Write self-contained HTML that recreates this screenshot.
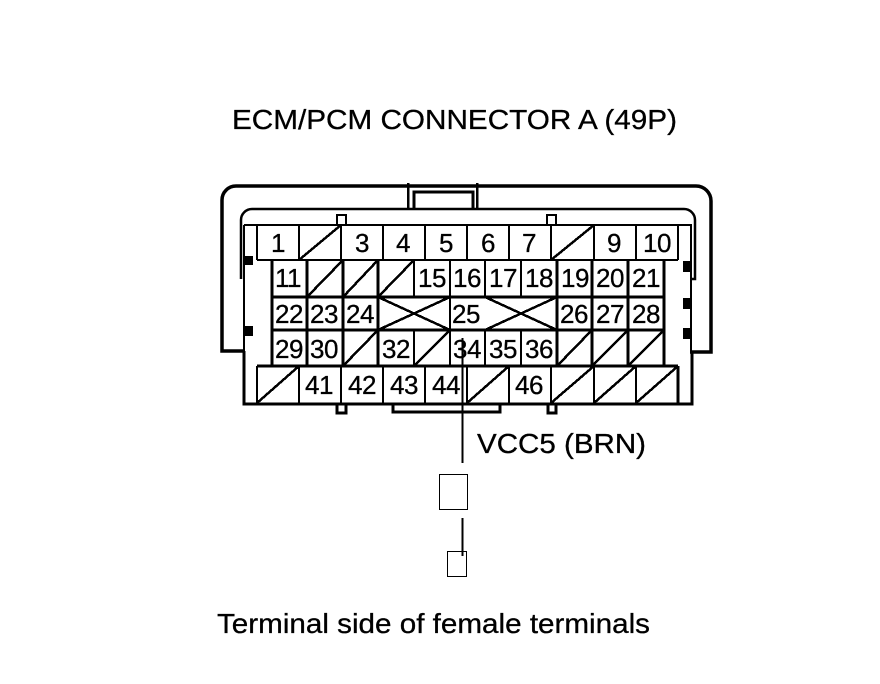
<!DOCTYPE html>
<html>
<head>
<meta charset="utf-8">
<style>
html,body{margin:0;padding:0;background:#fff}
svg{display:block}
text{font-family:"Liberation Sans",sans-serif;fill:#000;stroke:#000;stroke-width:.3px}
.n{font-size:26px;text-anchor:middle;letter-spacing:-.5px}
.t{font-size:28px}
.a{fill:none;stroke:#000;shape-rendering:auto}
.c{stroke:#000;fill:none;shape-rendering:crispEdges}
</style>
</head>
<body>
<svg width="880" height="684" viewBox="0 0 880 684" xmlns="http://www.w3.org/2000/svg">
<rect width="880" height="684" fill="#fff"/>

<text class="t" x="232" y="129" textLength="445" lengthAdjust="spacingAndGlyphs">ECM/PCM CONNECTOR A (49P)</text>
<text class="t" x="477" y="453" textLength="169" lengthAdjust="spacingAndGlyphs">VCC5 (BRN)</text>
<text class="t" x="217" y="633" textLength="433" lengthAdjust="spacingAndGlyphs">Terminal side of female terminals</text>

<!-- outer housing -->
<path class="a" stroke-width="3.500" d="M244 351H222V200A14 14 0 0 1 236 186H696A15 15 0 0 1 711 201V352H690"/>
<!-- inner housing -->
<path class="a" stroke-width="2.500" d="M241 279V220A11 11 0 0 1 252 209H684A11 11 0 0 1 695 220V279H691"/>
<!-- top tab -->
<path class="c" stroke-width="2.500" d="M408 183V209M477 183V209"/>
<path class="c" stroke-width="3" d="M414 209V192H473V209"/>
<!-- notches -->
<path class="c" stroke-width="2" d="M337 225V215H346V225M547 225V215H556V225"/>
<path class="c" stroke-width="3" d="M337 403V413H346V403M548 403V413H556V403"/>
<!-- bottom tab -->
<path class="c" stroke-width="3" d="M393 403V412H500V403"/>

<!-- body frame -->
<path class="c" stroke-width="2" d="M244 225V351M244 225H691V352"/>
<path class="c" stroke-width="3" d="M244 351V404H692V352"/>
<path class="c" stroke-width="3" d="M678 366V403"/>

<!-- black blocks -->
<rect x="245" y="256" width="8" height="9"/>
<rect x="245" y="326" width="8" height="10"/>
<rect x="683" y="261" width="8" height="11"/>
<rect x="683" y="298" width="8" height="11"/>
<rect x="683" y="328" width="8" height="11"/>

<!-- row 1 -->
<path class="c" stroke-width="2" d="M257 225V260M299 225V260M341 225V260M383 225V260M425 225V260M467 225V260M509 225V260M551 225V260M594 225V260M636 225V260M678 225V260M257 260H678"/>
<!-- row 2-4 verticals -->
<path class="c" stroke-width="3" d="M272 260V366M307 260V366M343 260V366M378 260V366M557 260V366M592 260V366M628 260V366M664 260V366"/>
<path class="c" stroke-width="2" d="M414 260V297M450 260V366M485 260V297M521 260V297M485 330V366M521 330V366M414 330V366"/>
<path class="c" stroke-width="3" d="M272 297H664M272 330H664M257 366H678"/>
<!-- row 5 verticals -->
<path class="c" stroke-width="2" d="M257 366V403M299 366V403M341 366V403M383 366V403M425 366V403M467 366V403M509 366V403M551 366V403M594 366V403M636 366V403"/>

<!-- diagonals -->
<g stroke="#000" stroke-width="2.500" shape-rendering="crispEdges">
<line x1="299" y1="260" x2="341" y2="225"/>
<line x1="551" y1="260" x2="594" y2="225"/>
<line x1="307" y1="297" x2="343" y2="260"/>
<line x1="343" y1="297" x2="378" y2="260"/>
<line x1="378" y1="297" x2="414" y2="260"/>
<line x1="378" y1="297" x2="450" y2="330"/>
<line x1="378" y1="330" x2="450" y2="297"/>
<line x1="485" y1="297" x2="557" y2="330"/>
<line x1="485" y1="330" x2="557" y2="297"/>
<line x1="343" y1="366" x2="378" y2="330"/>
<line x1="414" y1="366" x2="450" y2="330"/>
<line x1="557" y1="366" x2="592" y2="330"/>
<line x1="592" y1="366" x2="628" y2="330"/>
<line x1="628" y1="366" x2="664" y2="330"/>
<line x1="257" y1="403" x2="299" y2="366"/>
<line x1="467" y1="403" x2="509" y2="366"/>
<line x1="551" y1="403" x2="594" y2="366"/>
<line x1="594" y1="403" x2="636" y2="366"/>
<line x1="636" y1="403" x2="678" y2="366"/>
</g>

<!-- numbers -->
<text class="n" x="278" y="252">1</text>
<text class="n" x="362" y="252">3</text>
<text class="n" x="403" y="252">4</text>
<text class="n" x="446" y="252">5</text>
<text class="n" x="488" y="252">6</text>
<text class="n" x="529" y="252">7</text>
<text class="n" x="614" y="252">9</text>
<text class="n" x="657" y="252">10</text>

<text class="n" x="288" y="287">11</text>
<text class="n" x="432" y="287">15</text>
<text class="n" x="467" y="287">16</text>
<text class="n" x="503" y="287">17</text>
<text class="n" x="539" y="287">18</text>
<text class="n" x="575" y="287">19</text>
<text class="n" x="610" y="287">20</text>
<text class="n" x="646" y="287">21</text>

<text class="n" x="289" y="323">22</text>
<text class="n" x="324" y="323">23</text>
<text class="n" x="360" y="323">24</text>
<text class="n" x="466" y="323">25</text>
<text class="n" x="574" y="323">26</text>
<text class="n" x="610" y="323">27</text>
<text class="n" x="646" y="323">28</text>

<text class="n" x="289" y="358">29</text>
<text class="n" x="324" y="358">30</text>
<text class="n" x="396" y="358">32</text>
<text class="n" x="467" y="358">34</text>
<text class="n" x="503" y="358">35</text>
<text class="n" x="539" y="358">36</text>

<text class="n" x="319" y="394">41</text>
<text class="n" x="362" y="394">42</text>
<text class="n" x="404" y="394">43</text>
<text class="n" x="446" y="394">44</text>
<text class="n" x="529" y="394">46</text>

<!-- wire -->
<path class="c" stroke-width="2" d="M462.500 338V463M462.500 518V556"/>
<rect class="c" x="439.500" y="474.500" width="28" height="35" stroke-width="1"/>
<rect class="c" x="447.500" y="551.500" width="19" height="25" stroke-width="1"/>
</svg>
</body>
</html>
